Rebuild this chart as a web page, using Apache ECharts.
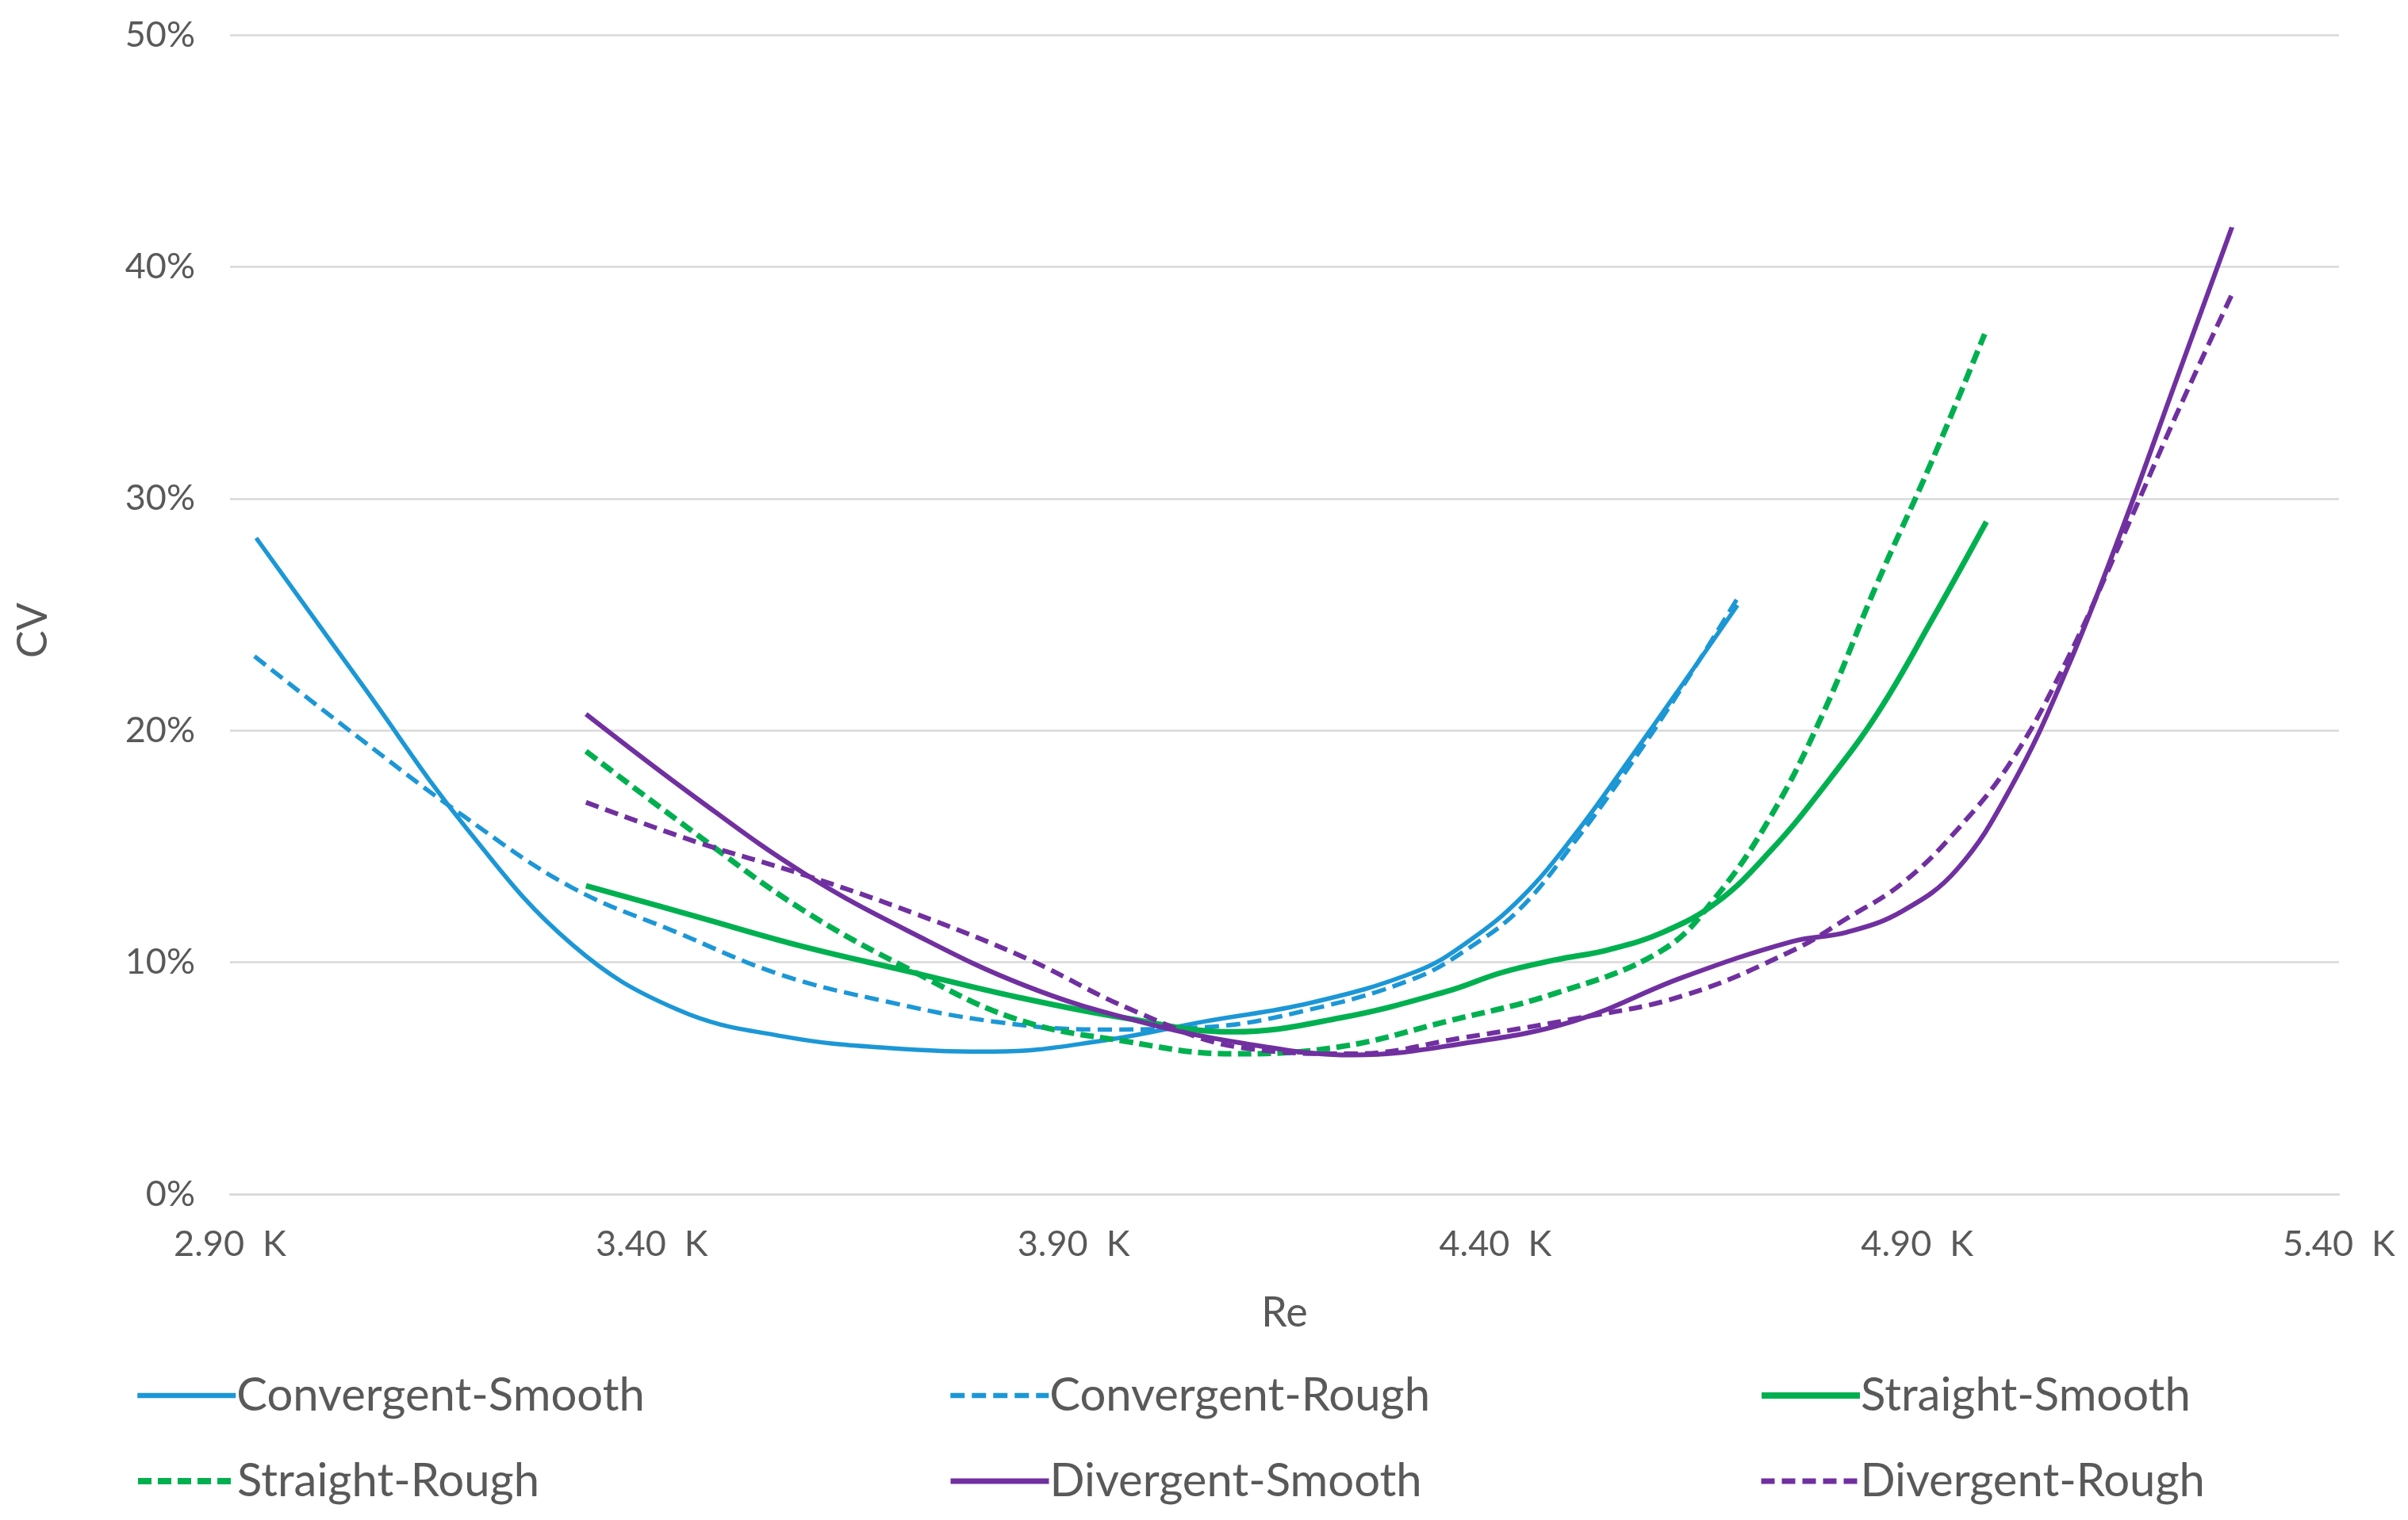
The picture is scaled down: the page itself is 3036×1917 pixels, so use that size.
<!DOCTYPE html>
<html>
<head>
<meta charset="utf-8">
<script src="https://cdn.jsdelivr.net/npm/echarts@6/dist/echarts.min.js"></script>
<style>
  html, body { margin: 0; padding: 0; background: #ffffff; }
  #chart { width: 3036px; height: 1917px; }
</style>
</head>
<body>
<div id="chart"></div>
<script>
// ---- Data (Re, CV in %) ----
const seriesNames = ['Convergent-Smooth', 'Convergent-Rough', 'Straight-Smooth', 'Straight-Rough', 'Divergent-Smooth', 'Divergent-Rough'];

const convSmoothRe = [2931, 3056, 3181, 3306, 3431, 3556, 3681, 3806, 3931, 4056, 4181, 4306, 4368, 4431, 4494, 4556, 4622, 4687];
const convSmoothCV = [28.3, 22.0, 15.75, 10.75, 7.95, 6.8, 6.3, 6.15, 6.6, 7.45, 8.25, 9.6, 10.9, 12.8, 15.5, 18.6, 22.0, 25.4];

const convRoughRe = [2929, 3054, 3179, 3304, 3429, 3554, 3679, 3804, 3929, 4054, 4179, 4304, 4368, 4429, 4494, 4554, 4622, 4687];
const convRoughCV = [23.2, 19.65, 16.25, 13.25, 11.3, 9.45, 8.3, 7.45, 7.1, 7.2, 7.95, 9.3, 10.6, 12.3, 15.2, 18.2, 21.9, 25.7];

const strSmoothRe = [3322, 3450, 3577, 3705, 3833, 3960, 4088, 4216, 4343, 4407, 4471, 4535, 4599, 4663, 4726, 4790, 4854, 4918, 4982];
const strSmoothCV = [13.3, 12.0, 10.7, 9.6, 8.5, 7.6, 7.0, 7.6, 8.75, 9.55, 10.1, 10.55, 11.3, 12.6, 14.8, 17.6, 20.8, 24.8, 29.0];

const strRoughRe = [3322, 3450, 3577, 3705, 3832, 3960, 4087, 4215, 4342, 4470, 4597, 4661, 4725, 4788, 4852, 4916, 4980];
const strRoughCV = [19.1, 15.6, 12.3, 9.7, 7.55, 6.6, 6.05, 6.35, 7.45, 8.65, 10.5, 12.8, 16.2, 20.7, 26.3, 31.5, 37.1];

const divSmoothRe = [3322, 3452, 3582, 3712, 3842, 3972, 4102, 4232, 4362, 4492, 4622, 4752, 4817, 4882, 4947, 5012, 5077, 5142, 5207, 5273];
const divSmoothCV = [20.7, 17.1, 13.8, 11.2, 9.0, 7.5, 6.5, 6.0, 6.5, 7.45, 9.35, 10.9, 11.3, 12.2, 14.0, 17.6, 22.6, 28.6, 35.1, 41.7];

const divRoughRe = [3322, 3452, 3582, 3712, 3842, 3972, 4102, 4232, 4362, 4492, 4622, 4752, 4817, 4882, 4947, 5012, 5077, 5142, 5207, 5273];
const divRoughCV = [16.9, 15.2, 13.75, 12.1, 10.2, 7.9, 6.3, 6.05, 6.75, 7.55, 8.55, 10.5, 11.9, 13.4, 15.7, 18.7, 23.0, 28.2, 33.6, 38.8];

const xTicks = [2900, 3400, 3900, 4400, 4900, 5400];
const yTicks = [0, 10, 20, 30, 40, 50];

// ---- Styles ----
const BLUE = '#1C97D6', GREEN = '#00B050', PURPLE = '#7030A0';
const TEXT = '#595959';
const FONT = 'Lato, "Open Sans", sans-serif';

function pairs(xs, ys) { return xs.map((x, i) => [x, ys[i]]); }

const seriesDefs = [
  { name: seriesNames[0], data: pairs(convSmoothRe, convSmoothCV), color: BLUE, width: 5.5, dash: 'solid' },
  { name: seriesNames[1], data: pairs(convRoughRe, convRoughCV), color: BLUE, width: 5.5, dash: [18, 9] },
  { name: seriesNames[2], data: pairs(strSmoothRe, strSmoothCV), color: GREEN, width: 7, dash: 'solid' },
  { name: seriesNames[3], data: pairs(strRoughRe, strRoughCV), color: GREEN, width: 7, dash: [17, 8] },
  { name: seriesNames[4], data: pairs(divSmoothRe, divSmoothCV), color: PURPLE, width: 6, dash: 'solid' },
  { name: seriesNames[5], data: pairs(divRoughRe, divRoughCV), color: PURPLE, width: 6, dash: [17, 9] }
];

const legendPos = [
  { left: 170, top: 1730 }, { left: 1195, top: 1730 }, { left: 2217, top: 1730 },
  { left: 170, top: 1838 }, { left: 1195, top: 1838 }, { left: 2217, top: 1838 }
];

const chart = echarts.init(document.getElementById('chart'), null, { renderer: 'canvas' });

chart.setOption({
  backgroundColor: '#ffffff',
  animation: false,
  grid: { left: 290, right: 87, top: 44, bottom: 411 },
  xAxis: {
    type: 'value',
    min: xTicks[0], max: xTicks[xTicks.length - 1], interval: 500,
    name: 'Re', nameLocation: 'middle', nameGap: 124,
    nameTextStyle: { color: TEXT, fontSize: 52, fontFamily: FONT },
    axisLine: { show: true, lineStyle: { color: '#D9D9D9', width: 2.5 } },
    axisTick: { show: false },
    splitLine: { show: false },
    axisLabel: {
      color: TEXT, fontSize: 45, fontFamily: FONT, margin: 41,
      formatter: v => (v / 1000).toFixed(2) + '  K'
    }
  },
  yAxis: {
    type: 'value',
    min: yTicks[0], max: yTicks[yTicks.length - 1], interval: 10,
    name: 'CV', nameLocation: 'middle', nameGap: 222,
    nameTextStyle: { color: TEXT, fontSize: 52, fontFamily: FONT, padding: [0, 0, 0, -40] },
    axisLine: { show: false },
    axisTick: { show: false },
    splitLine: { show: true, lineStyle: { color: '#D9D9D9', width: 2.5 } },
    axisLabel: {
      color: TEXT, fontSize: 45, fontFamily: FONT, margin: 44,
      formatter: v => v + '%'
    }
  },
  legend: seriesDefs.map((s, i) => ({
    data: [s.name],
    left: legendPos[i].left, top: legendPos[i].top,
    padding: 0, itemWidth: 124, itemHeight: 20, itemGap: 0,
    itemStyle: { opacity: 0 },
    lineStyle: { width: s.width + 1, type: s.dash, color: s.color, cap: 'butt' },
    textStyle: { color: TEXT, fontSize: 58, fontFamily: FONT, lineHeight: 60, padding: [0, 0, 0, -4] },
    selectedMode: false
  })),
  series: seriesDefs.map(s => ({
    name: s.name,
    type: 'line',
    data: s.data,
    smooth: 0.4,
    showSymbol: false,
    symbol: 'none',
    lineStyle: { color: s.color, width: s.width, type: s.dash, cap: 'butt' },
    itemStyle: { color: s.color },
    emphasis: { disabled: true }
  }))
});
</script>
</body>
</html>
